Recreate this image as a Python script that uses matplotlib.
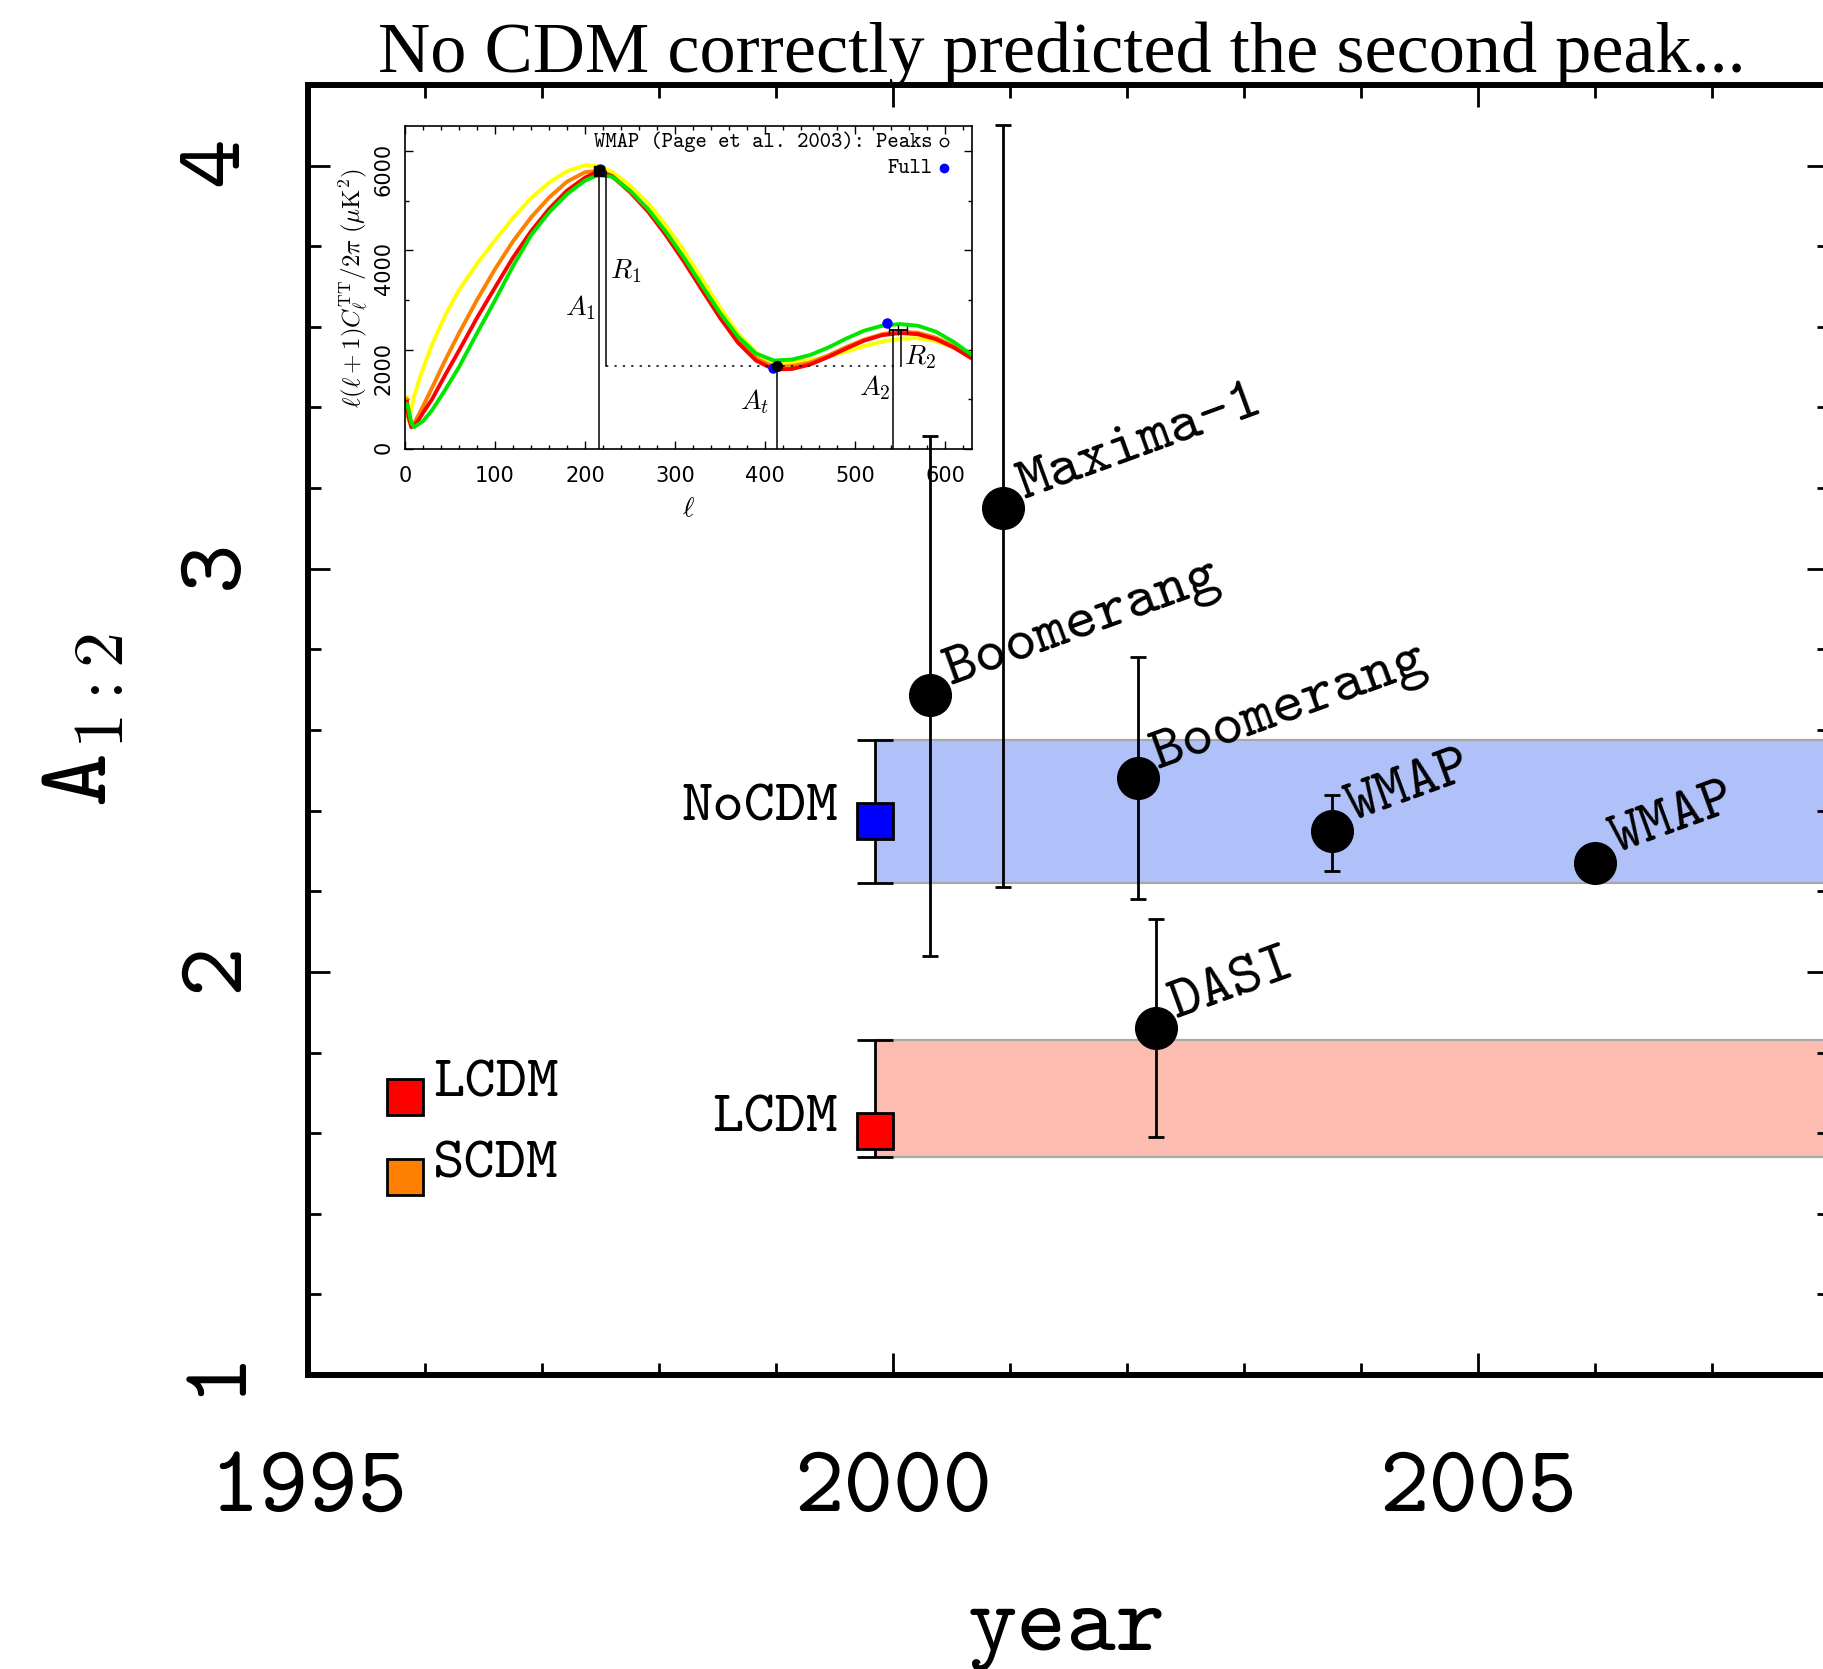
import os
import matplotlib
matplotlib.use("Agg")
import matplotlib.pyplot as plt
from matplotlib.font_manager import FontProperties
from matplotlib.ticker import MultipleLocator

plt.rcParams['mathtext.fontset'] = 'cm'

TT_FILE = os.path.join(matplotlib.get_data_path(), 'fonts', 'ttf', 'cmtt10.ttf')


def tt(size):
    return FontProperties(fname=TT_FILE, size=size)


# ---- main panel: measured A_{1:2} ----
exp_names = ['Boomerang', 'Maxima-1', 'Boomerang', 'DASI', 'WMAP', 'WMAP']
exp_year = [2000.32, 2000.94, 2002.09, 2002.25, 2003.75, 2006.0]
exp_a12 = [2.687, 3.15, 2.48, 1.86, 2.35, 2.27]
exp_lo = [2.04, 2.21, 2.18, 1.59, 2.25, 2.27]
exp_hi = [3.33, 4.10, 2.78, 2.13, 2.44, 2.27]

# model predictions (square + band)
model_names = ['NoCDM', 'LCDM']
model_year = [1999.85, 1999.85]
model_a12 = [2.375, 1.605]
model_lo = [2.22, 1.54]
model_hi = [2.575, 1.83]
model_colors = ['#0000ff', '#ff0000']
band_colors = ['#b0c0f8', '#fcbcb0']

# little key on the left
key_names = ['LCDM', 'SCDM']
key_year = [1995.83, 1995.83]
key_a12 = [1.69, 1.49]
key_colors = ['#ff0000', '#ff8000']

# ---- inset: power spectra ----
ell = [2, 4, 7, 10, 15, 20, 30, 45, 60, 80,
       100, 120, 140, 160, 180, 200, 215, 230, 250, 270,
       290, 310, 330, 350, 370, 390, 410, 430, 450, 470,
       490, 510, 530, 550, 570, 590, 610, 630]
cl_yellow = [1050, 560, 800, 1050, 1350, 1620, 2100, 2700, 3200, 3730,
             4200, 4650, 5050, 5360, 5590, 5710, 5690, 5580, 5300, 4950,
             4500, 3990, 3420, 2850, 2330, 1940, 1730, 1740, 1790, 1860,
             1960, 2070, 2160, 2220, 2230, 2170, 2040, 1860]
cl_orange = [1000, 620, 460, 520, 680, 860, 1230, 1800, 2330, 3000,
             3620, 4180, 4660, 5060, 5380, 5570, 5600, 5500, 5190, 4800,
             4330, 3800, 3230, 2680, 2190, 1830, 1650, 1670, 1740, 1880,
             2050, 2200, 2310, 2360, 2340, 2240, 2070, 1840]
cl_red = [950, 650, 440, 460, 580, 730, 1000, 1500, 1980, 2640,
          3250, 3850, 4380, 4830, 5200, 5460, 5590, 5490, 5170, 4780,
          4300, 3770, 3200, 2640, 2140, 1780, 1600, 1610, 1700, 1850,
          2020, 2180, 2290, 2335, 2310, 2210, 2040, 1820]
cl_green = [900, 800, 520, 440, 500, 560, 780, 1200, 1650, 2330,
            2990, 3680, 4300, 4760, 5130, 5400, 5520, 5480, 5200, 4830,
            4370, 3850, 3290, 2740, 2260, 1920, 1780, 1800, 1890, 2040,
            2220, 2380, 2480, 2515, 2480, 2360, 2150, 1890]
curve_colors = ['#ffff00', '#ff8000', '#ff0000', '#00e600']

peak_ell = [216, 413, 548]
peak_val = [5590, 1680, 2400]
peak_xerr = [3, 3, 10]
peak_markers = ['s', 'o', '|']
full_ell = [217, 409, 536]
full_val = [5640, 1620, 2545]
line_ell = [215, 413, 542]   # A_1, A_t, A_2
r_ell = [223, 551]           # R_1, R_2
trough_level = 1680

fig = plt.figure(figsize=(18.23, 16.69), dpi=100)
ax = fig.add_axes([308 / 1823, 1 - 1375 / 1669, 1521 / 1823, 1290 / 1669])
ax.set_zorder(2)
ax.patch.set_visible(False)

# bands
for lo, hi, x0, bc in zip(model_lo, model_hi, model_year, band_colors):
    ax.fill_between([x0, 2009], [lo, lo], [hi, hi], color=bc, lw=0, zorder=1)
    ax.plot([x0, 2009], [lo, lo], color='#a8a8a8', lw=1.6, zorder=1.5)
    ax.plot([x0, 2009], [hi, hi], color='#a8a8a8', lw=1.6, zorder=1.5)

# models
for x, y, lo, hi, c, name in zip(model_year, model_a12, model_lo, model_hi, model_colors, model_names):
    ax.errorbar([x], [y], yerr=[[y - lo], [hi - y]], fmt='none', ecolor='black',
                elinewidth=2, capsize=13, capthick=2, zorder=3)
    ax.plot([x], [y], 's', ms=26, mfc=c, mec='black', mew=2, zorder=4)
    ax.annotate(name, (x, y), xytext=(-27, 0), textcoords='offset points',
                ha='right', va='baseline', fontproperties=tt(43))

# key
for x, y, c, name in zip(key_year, key_a12, key_colors, key_names):
    ax.plot([x], [y], 's', ms=26, mfc=c, mec='black', mew=2, zorder=4)
    ax.annotate(name, (x, y), xytext=(20, 0), textcoords='offset points',
                ha='left', va='baseline', fontproperties=tt(43))

# experiments
for x, y, lo, hi, name in zip(exp_year, exp_a12, exp_lo, exp_hi, exp_names):
    if hi > lo:
        ax.errorbar([x], [y], yerr=[[y - lo], [hi - y]], fmt='none', ecolor='black',
                    elinewidth=2, capsize=6, capthick=2, zorder=3)
    ax.plot([x], [y], 'o', ms=30, color='black', zorder=4)
    ax.annotate(name, (x, y), xytext=(15, 7), textcoords='offset points',
                rotation=20, rotation_mode='anchor', ha='left', va='baseline',
                fontproperties=tt(44))

ax.set_xlim(1995, 2008)
ax.set_ylim(1, 4.2)
ax.set_xticks([1995, 2000, 2005], ['1995', '2000', '2005'], fontproperties=tt(68))
ax.set_yticks([1, 2, 3, 4], ['1', '2', '3', '4'], fontproperties=tt(68))
ax.xaxis.set_minor_locator(MultipleLocator(1))
ax.yaxis.set_minor_locator(MultipleLocator(0.2))
ax.tick_params(which='both', direction='in', top=True, right=True, width=2)
ax.tick_params(which='major', length=16)
ax.tick_params(which='minor', length=9)
ax.tick_params(axis='x', pad=56)
ax.tick_params(axis='y', labelrotation=90, pad=36)
for s in ax.spines.values():
    s.set_linewidth(4.3)

fig.text(1067 / 1823, 1 - 1649 / 1669, 'year', ha='center', va='baseline',
         fontproperties=tt(68))
fig.text(78 / 1823, 1 - 720 / 1669, r'$\mathtt{A}_{\mathtt{1:2}}$', ha='center',
         va='center', rotation=90, fontsize=74)
fig.text(1062 / 1823, 1 - 72 / 1669, 'No CDM correctly predicted the second peak...',
         ha='center', va='baseline', family='Liberation Serif', fontsize=52)

# ---- inset ----
ax_in = fig.add_axes([405 / 1823, 1 - 449 / 1669, 567 / 1823, 323 / 1669])
ax_in.set_zorder(1)
for vals, c in zip([cl_yellow, cl_orange, cl_red, cl_green], curve_colors):
    ax_in.plot(ell, vals, color=c, lw=2.8, solid_joinstyle='round')

ax_in.plot([line_ell[0], line_ell[0]], [0, peak_val[0]], color='black', lw=1.1)
ax_in.plot([line_ell[1], line_ell[1]], [0, peak_val[1]], color='black', lw=1.1)
ax_in.plot([line_ell[2], line_ell[2]], [0, peak_val[2]], color='black', lw=1.1)
ax_in.plot([r_ell[0], r_ell[0]], [trough_level, peak_val[0]], color='black', lw=1.1)
ax_in.plot([r_ell[1], r_ell[1]], [trough_level, peak_val[2]], color='black', lw=1.1)
ax_in.plot([r_ell[0], r_ell[1]], [trough_level, trough_level], color='black', lw=1.1,
           ls=(0, (1.5, 4)))

ax_in.plot(full_ell, full_val, 'o', color='#0000ff', ms=6.5, zorder=5)
for x, y, xe, m in zip(peak_ell, peak_val, peak_xerr, peak_markers):
    ax_in.errorbar([x], [y], xerr=[xe], fmt=m, color='black', ms=7,
                   capsize=3, elinewidth=1.3, zorder=6)

ax_in.text(212, 2850, r'$A_1$', ha='right', va='center', fontsize=20)
ax_in.text(228, 3580, r'$R_1$', ha='left', va='center', fontsize=20)
ax_in.text(405, 960, r'$A_t$', ha='right', va='center', fontsize=20)
ax_in.text(539, 1240, r'$A_2$', ha='right', va='center', fontsize=20)
ax_in.text(555, 1860, r'$R_2$', ha='left', va='center', fontsize=20)

ax_in.text(586, 6174, 'WMAP (Page et al. 2003): Peaks', ha='right', va='center',
           fontproperties=tt(15.5))
ax_in.plot([599], [6174], 'o', mfc='white', mec='black', ms=6, mew=1)
ax_in.text(586, 5650, 'Full', ha='right', va='center', fontproperties=tt(15.5))
ax_in.plot([599], [5650], 'o', color='#0000ff', ms=6)

ax_in.set_xlim(0, 630)
ax_in.set_ylim(0, 6500)
ax_in.set_xticks([0, 100, 200, 300, 400, 500, 600])
ax_in.set_yticks([0, 2000, 4000, 6000])
ax_in.xaxis.set_minor_locator(MultipleLocator(20))
ax_in.yaxis.set_minor_locator(MultipleLocator(1000))
ax_in.tick_params(which='both', direction='in', top=True, right=True, labelsize=15, width=1)
ax_in.tick_params(which='major', length=6)
ax_in.tick_params(which='minor', length=3)
ax_in.tick_params(axis='x', pad=12)
ax_in.tick_params(axis='y', labelrotation=90, pad=8)
for s in ax_in.spines.values():
    s.set_linewidth(1.2)
ax_in.set_xlabel(r'$\ell$', fontsize=20, labelpad=6)
ax_in.set_ylabel(r'$\ell(\ell+1)C_\ell^{\rm TT}/2\pi\ (\mu{\rm K}^2)$', fontsize=18, labelpad=3)

fig.savefig('out.png', dpi=100, facecolor='white')
